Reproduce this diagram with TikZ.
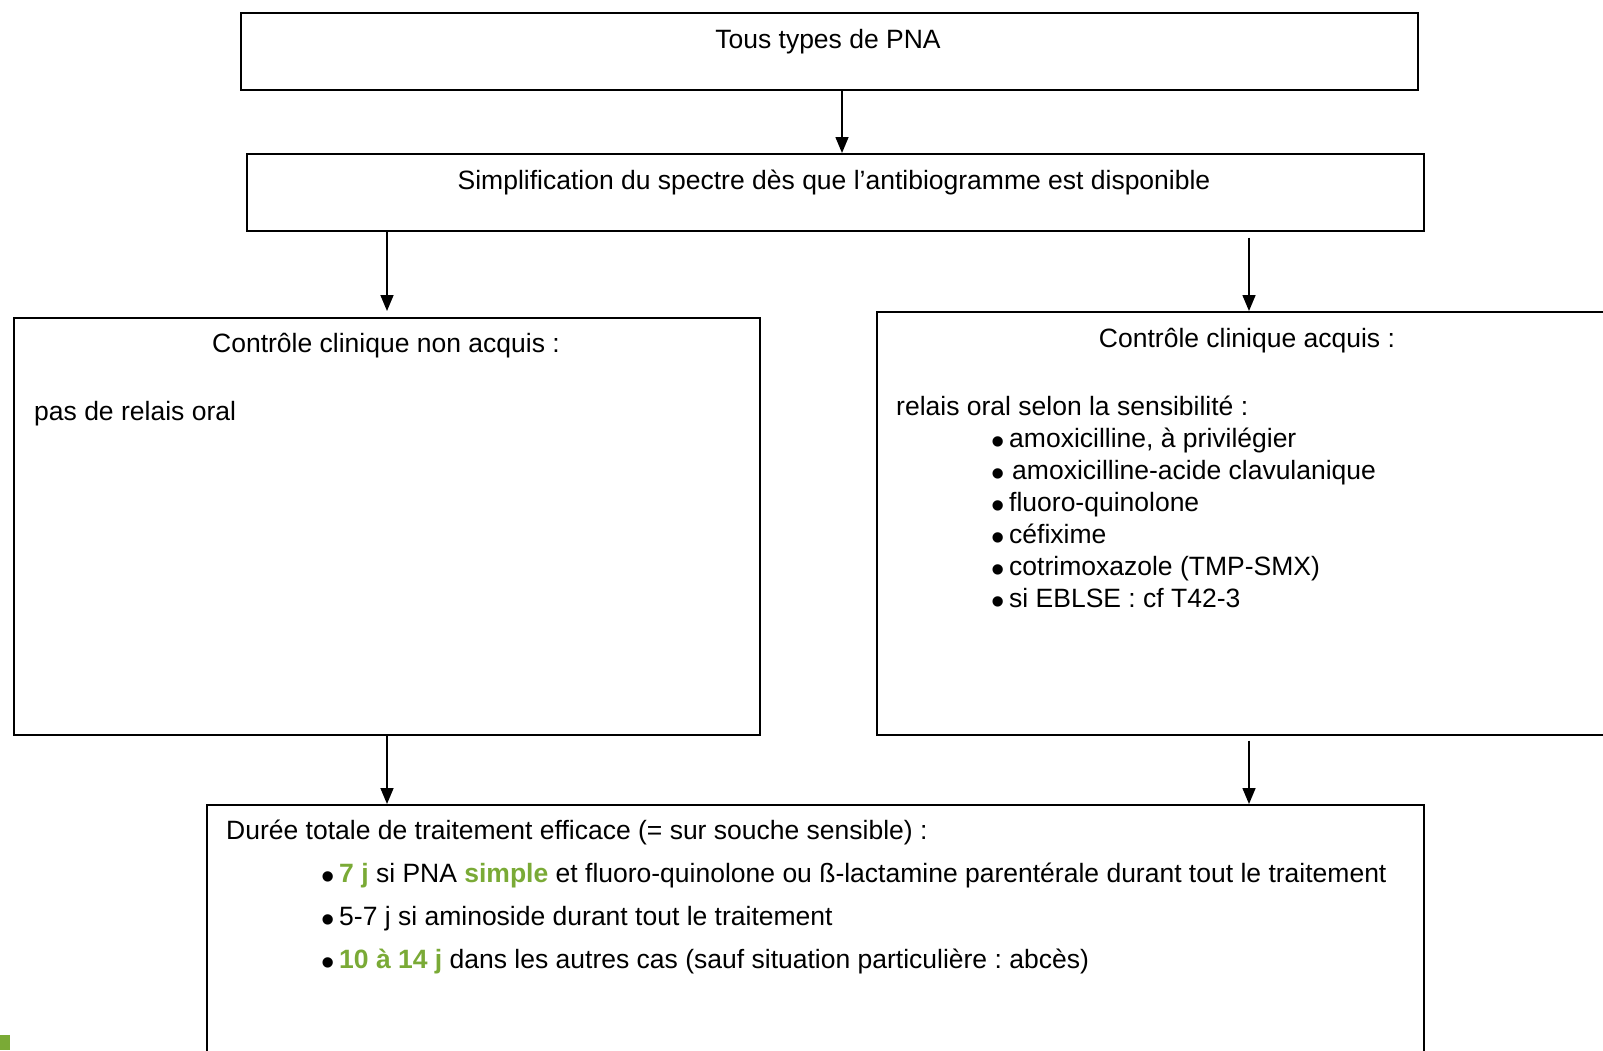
\documentclass[tikz,border=0pt]{standalone}
\usepackage{fontspec}
\setmainfont{Liberation Sans}
\usetikzlibrary{arrows.meta}
\definecolor{grn}{RGB}{122,170,54}
\newcommand\bul{\makebox[17pt][l]{\hspace{-1pt}\smash{\raisebox{-7pt}{\fontsize{38}{38}\selectfont •}}}}
\frenchspacing
\begin{document}
\begin{tikzpicture}[x=1pt,y=-1pt,
  box/.style={draw,line width=1.7pt,inner sep=0pt,anchor=north west},
  txt/.style={inner sep=0pt,anchor=base west,font=\fontsize{26.5}{32}\selectfont},
  ctxt/.style={txt,anchor=base},
  arr/.style={line width=1.6pt,-{Triangle[width=13pt,length=16pt]}}]
\useasboundingbox (0,0) rectangle (1603,1050);
\fill[white] (0,0) rectangle (1603,1050);
% boxes
\node[box,minimum width=1177pt,minimum height=77pt] (b1) at (240,12) {};
\node[box,minimum width=1177pt,minimum height=77pt] (b2) at (246,153) {};
\node[box,minimum width=746pt,minimum height=417pt] (b3) at (13,317) {};
\node[box,minimum width=780pt,minimum height=423pt] (b4) at (876,311) {};
\node[box,minimum width=1217pt,minimum height=320pt] (b5) at (206,804) {};
% arrow positions
\coordinate (cx) at (842,0);
\coordinate (lx) at (387,0);
\coordinate (rx) at (1249,0);
\draw[arr] (b1.south -| cx) -- (b2.north -| cx);
\draw[arr,shorten >=6pt] (b2.south -| lx) -- (b3.north -| lx);
\draw[arr,shorten <=6pt] (b2.south -| rx) -- (b4.north -| rx);
\draw[arr] (b3.south -| lx) -- (b5.north -| lx);
\draw[arr,shorten <=5pt] (b4.south -| rx) -- (b5.north -| rx);
% texts
\node[ctxt] (t1) at (828,48) {Tous types de PNA};
\node[ctxt] (t2) at (834,189) {Simplification du spectre dès que l’antibiogramme est disponible};
\node[ctxt] (t3) at (386,352) {Contrôle clinique non acquis :};
\node[txt] (t4) at (34,420) {pas de relais oral};
\node[ctxt] (t5) at (1247,347) {Contrôle clinique acquis :};
\node[txt] (t6) at (896,415) {relais oral selon la sensibilité :};
\node[txt] (r1) at (992,447) {\bul amoxicilline, à privilégier};
\node[txt] (r2) at (992,479) {\bul\hspace{3pt}amoxicilline-acide clavulanique};
\node[txt] (r3) at (992,511) {\bul fluoro-quinolone};
\node[txt] (r4) at (992,543) {\bul céfixime};
\node[txt] (r5) at (992,575) {\bul cotrimoxazole (TMP-SMX)};
\node[txt] (r6) at (992,607) {\bul si EBLSE : cf T42-3};
\node[txt] (d0) at (226,839) {Durée totale de traitement efficace (= sur souche sensible) :};
\node[txt] (d1) at (322,882) {\bul\textcolor{grn}{\bfseries 7 j} si PNA \textcolor{grn}{\bfseries simple} et fluoro-quinolone ou ß-lactamine parentérale durant tout le traitement};
\node[txt] (d2) at (322,925) {\bul 5-7 j si aminoside durant tout le traitement};
\node[txt] (d3) at (322,968) {\bul\textcolor{grn}{\bfseries 10 à 14 j} dans les autres cas (sauf situation particulière : abcès)};
% green mark
\fill[grn] (0,1035) rectangle (10,1050);
\end{tikzpicture}
\end{document}
